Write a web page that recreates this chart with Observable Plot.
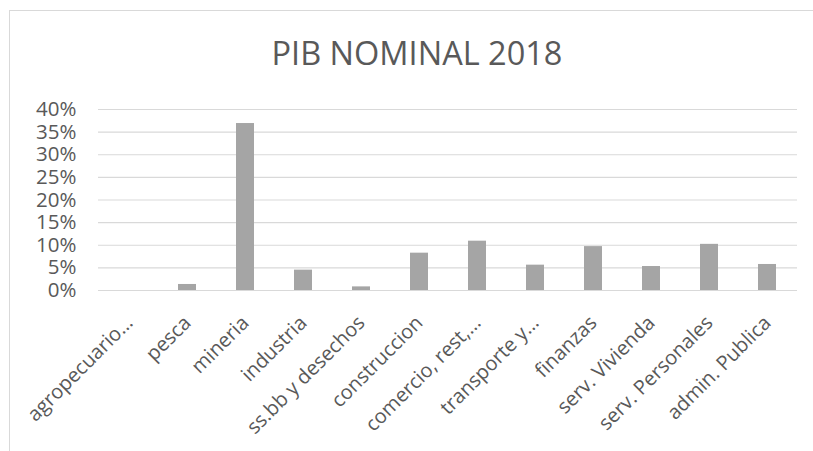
<!DOCTYPE html>
<html><head><meta charset="utf-8">
<script src="https://cdn.jsdelivr.net/npm/d3@7"></script>
<script src="https://cdn.jsdelivr.net/npm/@observablehq/plot@0.6"></script>
<style>
body{margin:0;background:#fff;width:813px;height:451px;overflow:hidden;position:relative;font-family:"Open Sans",sans-serif;}
#frame{position:absolute;left:9px;top:10px;width:900px;height:600px;border:1.5px solid #d9d9d9;box-sizing:border-box;}
#title{position:absolute;left:0;width:834px;top:37px;line-height:32px;text-align:center;font-size:32.5px;color:#595959;}
#chart{position:absolute;left:0;top:0;}
</style></head>
<body>
<div id="frame"></div>
<div id="title">PIB NOMINAL 2018</div>
<div id="chart"></div>
<script>
const categories = ["agropecuario-silvicola","pesca","mineria","industria","ss.bb y desechos","construccion","comercio, rest, hoteles","transporte y comunicaciones","finanzas","serv. Vivienda","serv. Personales","admin. Publica"];
const tickLabels = ["agropecuario…","pesca","mineria","industria","ss.bb y desechos","construccion","comercio, rest,…","transporte y…","finanzas","serv. Vivienda","serv. Personales","admin. Publica"];
const shares = [0.0, 0.0133, 0.369, 0.045, 0.008, 0.0825, 0.109, 0.056, 0.097, 0.053, 0.102, 0.0575];
const yTicks = [0, 0.05, 0.10, 0.15, 0.20, 0.25, 0.30, 0.35, 0.40];

const data = categories.map((c, i) => ({c, v: shares[i]}));
const labelOf = new Map(categories.map((c, i) => [c, tickLabels[i]]));

const chart = Plot.plot({
  width: 813,
  height: 451,
  marginTop: 109,
  marginBottom: 161,
  marginLeft: 98,
  marginRight: 16,
  style: {fontFamily: "'Open Sans', sans-serif", fontSize: "20px", color: "#595959", background: "transparent"},
  x: {domain: categories, paddingInner: 0.69, paddingOuter: 0.345, label: null, axis: null},
  y: {domain: [0, 0.4], label: null},
  marks: [
    Plot.ruleY(yTicks, {stroke: "#d9d9d9", strokeWidth: 1.2}),
    Plot.barY(data, {x: "c", y: "v", fill: "#a5a5a5"}),
    Plot.axisY({ticks: yTicks, tickFormat: d3.format(".0%"), tickSize: 0, tickPadding: 22, label: null, fill: "#595959", fontSize: "20.5px"}),
    Plot.text(categories, {x: d => d, text: d => labelOf.get(d), frameAnchor: "bottom", rotate: -45, textAnchor: "end", lineAnchor: "middle", dx: 0, dy: 29, fill: "#595959", fontSize: "20px"})
  ]
});
document.getElementById("chart").append(chart);
</script>
</body></html>
